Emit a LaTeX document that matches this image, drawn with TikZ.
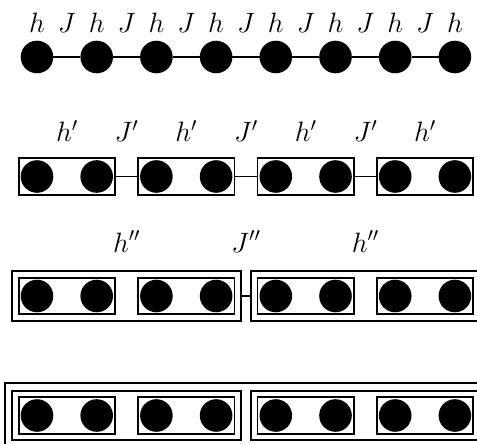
\documentclass[tikz,border=0pt]{standalone}
\usepackage{fix-cm}
\usetikzlibrary{fit}
\begin{document}
\begin{tikzpicture}[x=1pt,y=-1pt,
  site/.style={circle,fill=black,inner sep=0pt,outer sep=0pt,minimum size=32.6pt},
  bond/.style={line width=1.5pt},
  blk/.style={draw,line width=1.8pt,inner sep=2pt,outer sep=0pt},
  blkk/.style={draw,line width=2.1pt,inner sep=6.5pt,outer sep=0pt},
  blkkk/.style={draw,line width=2.1pt,inner sep=7.5pt,outer sep=0pt},
  lab/.style={anchor=base,inner sep=0pt,font=\fontsize{28}{33}\selectfont}]
\useasboundingbox (0,0) rectangle (477,444);
\clip (0,0) rectangle (477,444);
% row 1
\foreach \i in {0,...,7} {
  \pgfmathsetmacro\xx{37+59.7*\i}
  \node[site] (a\i) at (\xx,57) {};
  \node[lab] (ha\i) at (\xx,33) {$h$};
}
\foreach \i in {0,...,6} {
  \pgfmathtruncatemacro\j{\i+1}
  \pgfmathsetmacro\xx{37+59.7*\i+29.85}
  \draw[bond] (a\i) -- (a\j);
  \node[lab] (Ja\i) at (\xx,33) {$J$};
}
% row 2
\foreach \i in {0,...,7} {
  \pgfmathsetmacro\xx{37+59.7*\i}
  \node[site] (b\i) at (\xx,176.5) {};
}
\foreach \k in {0,...,3} {
  \pgfmathtruncatemacro\p{2*\k}
  \pgfmathtruncatemacro\q{2*\k+1}
  \node[blk,fit=(b\p)(b\q)] (B\k) {};
  \node[lab] (hb\k) at (B\k.center |- 0,142) {$h'$};
}
\foreach \k in {0,...,2} {
  \pgfmathtruncatemacro\m{\k+1}
  \draw[bond] (B\k) -- (B\m);
  \pgfmathsetmacro\xx{37+59.7*(2*\k+1)+29.85}
  \node[lab] (Jb\k) at (\xx,142) {$J'$};
}
% row 3
\foreach \i in {0,...,7} {
  \pgfmathsetmacro\xx{37+59.7*\i}
  \node[site] (c\i) at (\xx,296) {};
}
\foreach \k in {0,...,3} {
  \pgfmathtruncatemacro\p{2*\k}
  \pgfmathtruncatemacro\q{2*\k+1}
  \node[blk,fit=(c\p)(c\q)] (C\k) {};
}
\node[blkk,fit=(C0)(C1)] (CC0) {};
\node[blkk,fit=(C2)(C3)] (CC1) {};
\draw[bond] (CC0) -- (CC1);
\node[lab] (hc0) at (CC0.center |- 0,252) {$h''$};
\node[lab] (Jc0) at (246,252) {$J''$};
\node[lab] (hc1) at (CC1.center |- 0,252) {$h''$};
% row 4
\foreach \i in {0,...,7} {
  \pgfmathsetmacro\xx{37+59.7*\i}
  \node[site] (d\i) at (\xx,415.5) {};
}
\foreach \k in {0,...,3} {
  \pgfmathtruncatemacro\p{2*\k}
  \pgfmathtruncatemacro\q{2*\k+1}
  \node[blk,fit=(d\p)(d\q)] (D\k) {};
}
\node[blkk,fit=(D0)(D1)] (DD0) {};
\node[blkk,fit=(D2)(D3)] (DD1) {};
\node[blkkk,fit=(DD0)(DD1)] (DDD) {};
\end{tikzpicture}
\end{document}
